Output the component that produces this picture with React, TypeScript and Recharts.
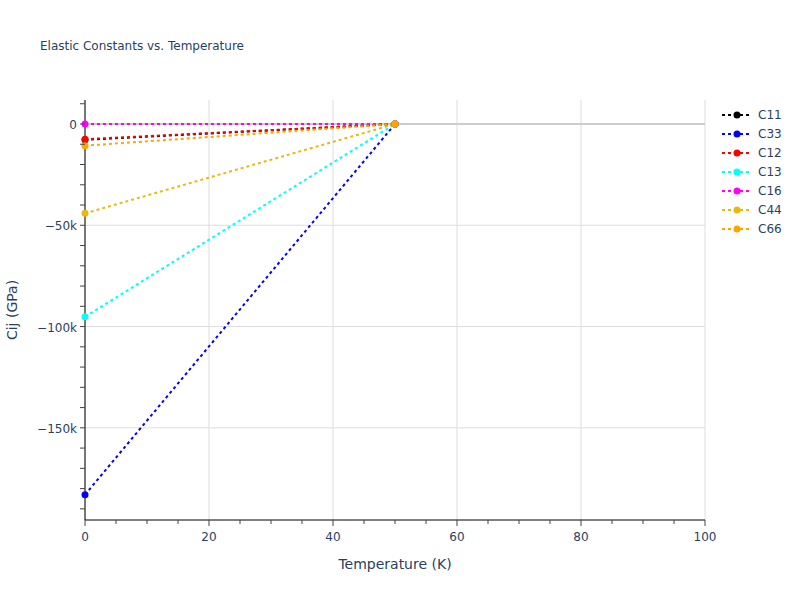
import * as React from 'react';
import { LineChart, Line, XAxis, YAxis, CartesianGrid, ReferenceLine, Label } from 'recharts';

const temperatures = [0, 50];
const c11 = [-7800, 0];
const c33 = [-183000, 0];
const c12 = [-7500, 0];
const c13 = [-95200, 0];
const c16 = [0, 0];
const c44 = [-44100, 0];
const c66 = [-10700, 0];

const xTicks = [0, 5, 10, 15, 20, 25, 30, 35, 40, 45, 50, 55, 60, 65, 70, 75, 80, 85, 90, 95, 100];
const xMajor = [0, 20, 40, 60, 80, 100];
const yTicks = [-190000, -180000, -170000, -160000, -150000, -140000, -130000, -120000, -110000, -100000,
  -90000, -80000, -70000, -60000, -50000, -40000, -30000, -20000, -10000, 0, 10000];
const yMajor = [-150000, -100000, -50000, 0];

const series = [
  { key: 'C11', values: c11, color: '#000000' },
  { key: 'C33', values: c33, color: '#0000ff' },
  { key: 'C12', values: c12, color: '#ff0000' },
  { key: 'C13', values: c13, color: '#00ffff' },
  { key: 'C16', values: c16, color: '#ff00ff' },
  { key: 'C44', values: c44, color: '#e9b90f' },
  { key: 'C66', values: c66, color: '#ffa500' },
];

const data = temperatures.map((t, i) => {
  const row: any = { temperature: t };
  series.forEach(s => { row[s.key] = s.values[i]; });
  return row;
});

const textColor = '#2a3f5f';
const font = '"DejaVu Sans", verdana, sans-serif';

const fmtY = (v: number) => (v === 0 ? '0' : '\u2212' + Math.abs(v / 1000) + 'k');

const XTick = (props: any) => {
  const { x, y, payload } = props;
  const major = xMajor.includes(payload.value);
  return (
    <g>
      <line x1={x} x2={x} y1={y} y2={y + (major ? 6 : 4)} stroke="#444" strokeWidth={1} />
      {major && (
        <text x={x} y={y + 21} textAnchor="middle" fill={textColor} fontSize={12} fontFamily={font}>
          {payload.value}
        </text>
      )}
    </g>
  );
};

const YTick = (props: any) => {
  const { x, y, payload } = props;
  const major = yMajor.includes(payload.value);
  return (
    <g>
      <line x1={x - 5} x2={x} y1={y} y2={y} stroke="#444" strokeWidth={1} />
      {major && (
        <text x={x - 8} y={y + 5} textAnchor="end" fill={textColor} fontSize={12} fontFamily={font}>
          {fmtY(payload.value)}
        </text>
      )}
    </g>
  );
};

const LegendBox = () => (
  <div style={{ position: 'absolute', left: 721, top: 105, fontFamily: font, fontSize: 12, color: textColor }}>
    {series.map(s => (
      <div key={s.key} style={{ height: 19, display: 'flex', alignItems: 'center' }}>
        <svg width={37} height={12}>
          <line x1={1} x2={29} y1={6} y2={6} stroke={s.color} strokeWidth={2} strokeDasharray="3,3" />
          <circle cx={16} cy={6} r={3.5} fill={s.color} />
        </svg>
        <span>{s.key}</span>
      </div>
    ))}
  </div>
);

export default function App() {
  return (
    <div style={{ position: 'absolute', left: 0, top: 0, width: 800, height: 600, background: '#fff' }}>
      <div style={{ position: 'absolute', left: 40, top: 39, fontFamily: font, fontSize: 12, color: textColor }}>
        Elastic Constants vs. Temperature
      </div>
      <LineChart width={800} height={600} data={data} margin={{ top: 100, right: 95, left: 0, bottom: 0 }}>
        <CartesianGrid
          stroke="#dddddd"
          horizontalValues={yMajor}
          verticalValues={xMajor}
        />
        <XAxis
          dataKey="temperature"
          type="number"
          domain={[0, 100]}
          ticks={xTicks}
          interval={0}
          height={80}
          tickSize={0}
          tickMargin={0}
          tickLine={false}
          tick={<XTick />}
          axisLine={{ stroke: '#000', strokeWidth: 1 }}
        >
          <Label value="Temperature (K)" position="insideBottom" offset={31} fill={textColor} fontSize={14} fontFamily={font} />
        </XAxis>
        <YAxis
          type="number"
          domain={[-195500, 11850]}
          ticks={yTicks}
          interval={0}
          width={85}
          tickSize={0}
          tickMargin={0}
          tickLine={false}
          tick={<YTick />}
          axisLine={{ stroke: '#000', strokeWidth: 1 }}
          allowDataOverflow
        >
          <Label value="Cij (GPa)" position="insideLeft" angle={-90} offset={12} fill={textColor} fontSize={14} fontFamily={font} style={{ textAnchor: 'middle' }} />
        </YAxis>
        <ReferenceLine y={0} stroke="#cccccc" strokeWidth={2} />
        {series.map(s => (
          <Line
            key={s.key}
            dataKey={s.key}
            stroke={s.color}
            strokeWidth={2}
            strokeDasharray="3 3"
            dot={{ r: 3.5, fill: s.color, stroke: s.color, strokeWidth: 0 }}
            activeDot={false}
            isAnimationActive={false}
            type="linear"
          />
        ))}
      </LineChart>
      <LegendBox />
    </div>
  );
}
